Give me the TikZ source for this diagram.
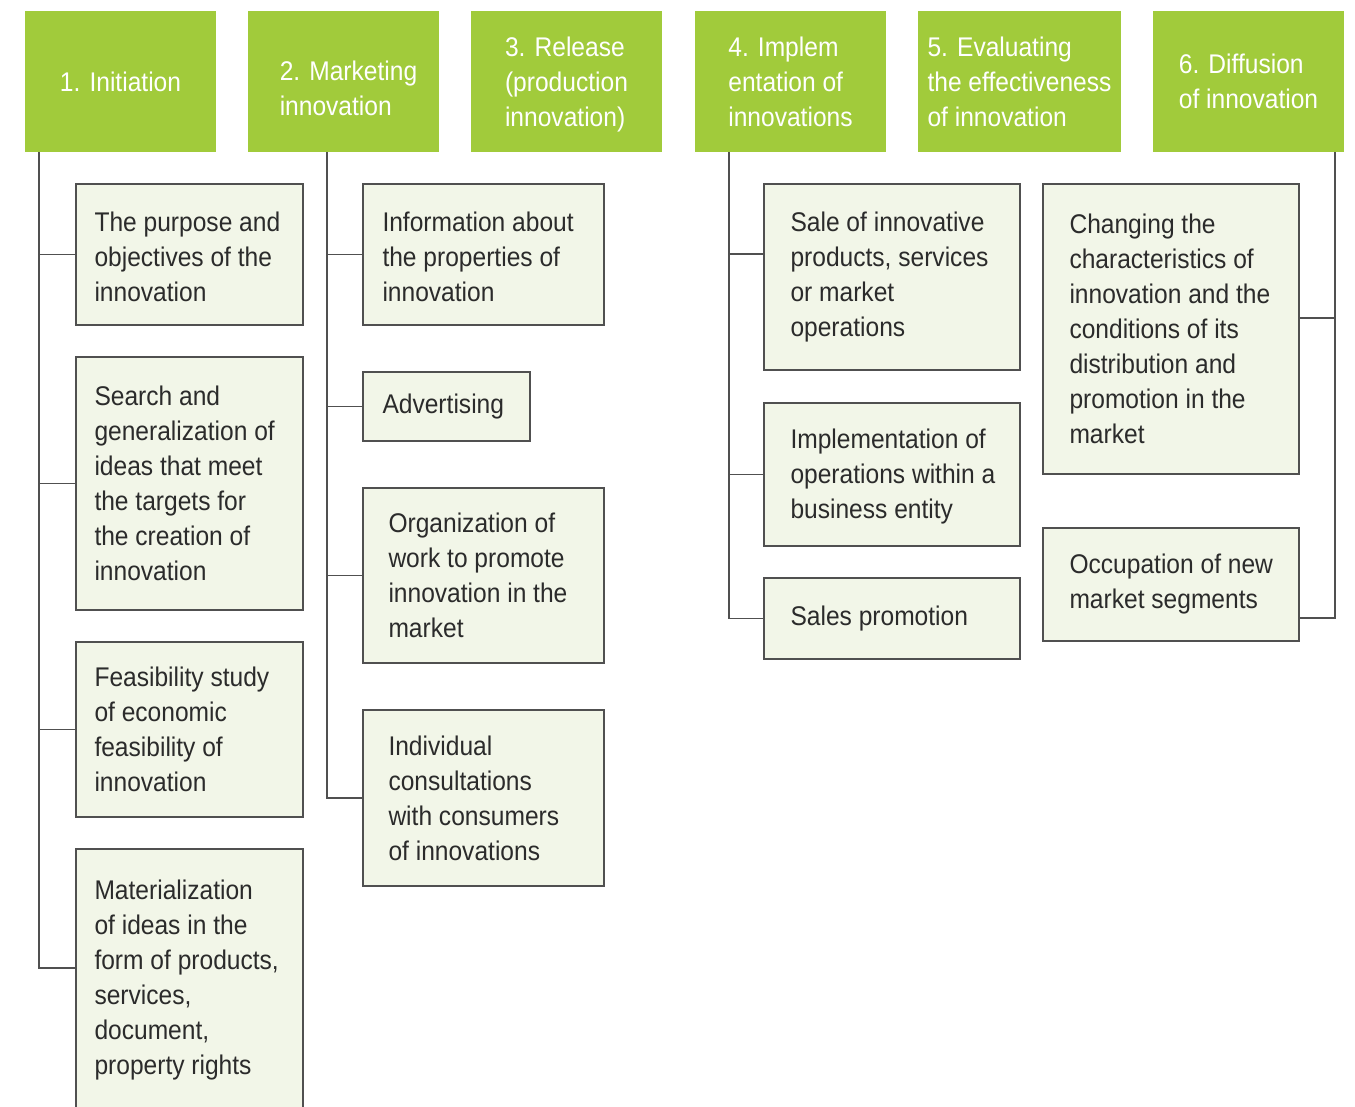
\documentclass[tikz,border=0pt]{standalone}
\usepackage{fontspec}
\setmainfont[FakeStretch=0.91]{Liberation Sans}
\definecolor{hgreen}{HTML}{A1CB3B}
\definecolor{bfill}{HTML}{F2F6E8}
\definecolor{bline}{HTML}{505050}
\definecolor{ctext}{HTML}{2B2B2B}
\tikzset{
  hdr/.style={fill=hgreen, draw=none, minimum height=141pt, text=white, align=left, inner sep=0pt},
  htxt/.style={text=white, align=left, inner sep=0pt},
  bx/.style={draw=bline, fill=bfill, line width=1.4pt, inner sep=0pt},
  txt/.style={anchor=west, align=left, inner sep=0pt, text=ctext},
  conn/.style={draw=bline, line width=1.4pt}
}
\begin{document}
\begin{tikzpicture}[x=1pt, y=-1pt, font=\fontsize{27}{35}\selectfont]
\useasboundingbox (0,0) rectangle (1355,1106);
\clip (0,0) rectangle (1355,1106);
% headers
\node[hdr, minimum width=191pt] (h1) at (120.5,81.5) {1. Initiation};
\node[hdr, minimum width=191pt] (h2) at (343.5,81.5) {};
\node[htxt] (ht2) at ([xshift=5pt,yshift=-7pt]h2.center) {2. Marketing\\innovation};
\node[hdr, minimum width=191pt] (h3) at (566.5,81.5) {};
\node[htxt] (ht3) at ([yshift=-3pt]h3.center) {3. Release\\(production\\innovation)};
\node[hdr, minimum width=191pt] (h4) at (790.5,81.5) {4. Implem\\entation of\\innovations};
\node[hdr, minimum width=203pt] (h5) at (1019.5,81.5) {5. Evaluating\\the effectiveness\\of innovation};
\node[hdr, minimum width=191pt] (h6) at (1248.5,81.5) {6. Diffusion\\of innovation};
% column 1 boxes
\node[bx, minimum width=227pt, minimum height=141pt] (b11) at (189.5,254.5) {};
\node[txt] (t11) at ([xshift=19pt,yshift=-2pt]b11.west) {The purpose and\\objectives of the\\innovation};
\node[bx, minimum width=227pt, minimum height=253pt] (b12) at (189.5,483.5) {};
\node[txt] (t12) at ([xshift=19pt]b12.west) {Search and\\generalization of\\ideas that meet\\the targets for\\the creation of\\innovation};
\node[bx, minimum width=227pt, minimum height=175pt] (b13) at (189.5,729.5) {};
\node[txt] (t13) at ([xshift=19pt]b13.west) {Feasibility study\\of economic\\feasibility of\\innovation};
\node[bx, minimum width=227pt, minimum height=262pt] (b14) at (189.5,980) {};
\node[txt] (t14) at ([xshift=19pt]b14.west) {Materialization\\of ideas in the\\form of products,\\services,\\document,\\property rights};
% column 2 boxes
\node[bx, minimum width=241pt, minimum height=141pt] (b21) at (483.5,254.5) {};
\node[txt] (t21) at ([xshift=20pt,yshift=-2pt]b21.west) {Information about\\the properties of\\innovation};
\node[bx, minimum width=167pt, minimum height=69pt] (b22) at (446.5,406.5) {};
\node[txt] (t22) at ([xshift=20pt]b22.west) {Advertising};
\node[bx, minimum width=241pt, minimum height=175pt] (b23) at (483.5,575.5) {};
\node[txt] (t23) at ([xshift=26pt]b23.west) {Organization of\\work to promote\\innovation in the\\market};
\node[bx, minimum width=241pt, minimum height=176pt] (b24) at (483.5,798) {};
\node[txt] (t24) at ([xshift=26pt]b24.west) {Individual\\consultations\\with consumers\\of innovations};
% column 4 boxes
\node[bx, minimum width=256pt, minimum height=186pt] (b41) at (892,277) {};
\node[txt] (t41) at ([xshift=27pt]b41.west) {Sale of innovative\\products, services\\or market\\operations};
\node[bx, minimum width=256pt, minimum height=143pt] (b42) at (892,474.5) {};
\node[txt] (t42) at ([xshift=27pt,yshift=-2pt]b42.west) {Implementation of\\operations within a\\business entity};
\node[bx, minimum width=256pt, minimum height=81pt] (b43) at (892,618.5) {};
\node[txt] (t43) at ([xshift=27pt]b43.west) {Sales promotion};
% column 6 boxes
\node[bx, minimum width=256pt, minimum height=290pt] (b61) at (1171,329) {};
\node[txt] (t61) at ([xshift=27pt]b61.west) {Changing the\\characteristics of\\innovation and the\\conditions of its\\distribution and\\promotion in the\\market};
\node[bx, minimum width=256pt, minimum height=113pt] (b62) at (1171,584.5) {};
\node[txt] (t62) at ([xshift=27pt]b62.west) {Occupation of new\\market segments};
% spine coordinates
\coordinate (s1) at (h1.south -| 39,0);
\coordinate (s2) at (h2.south -| 327,0);
\coordinate (s4) at (h4.south -| 729,0);
\coordinate (s6) at (h6.south -| 1335,0);
\coordinate (c14) at (b14.west |- 0,968);
\coordinate (c41) at (b41.west |- 0,254);
\coordinate (c61) at (b61.east |- 0,318);
\coordinate (c62) at (b62.east |- 0,618);
% connectors
\draw[conn] (s1) |- (c14);
\draw[conn] (s1 |- b11.west) -- (b11.west);
\draw[conn] (s1 |- b12.west) -- (b12.west);
\draw[conn] (s1 |- b13.west) -- (b13.west);
\draw[conn] (s2) |- (b24.west);
\draw[conn] (s2 |- b21.west) -- (b21.west);
\draw[conn] (s2 |- b22.west) -- (b22.west);
\draw[conn] (s2 |- b23.west) -- (b23.west);
\draw[conn] (s4) |- (b43.west);
\draw[conn] (s4 |- c41) -- (c41);
\draw[conn] (s4 |- b42.west) -- (b42.west);
\draw[conn] (s6) |- (c62);
\draw[conn] (s6 |- c61) -- (c61);
\end{tikzpicture}
\end{document}
